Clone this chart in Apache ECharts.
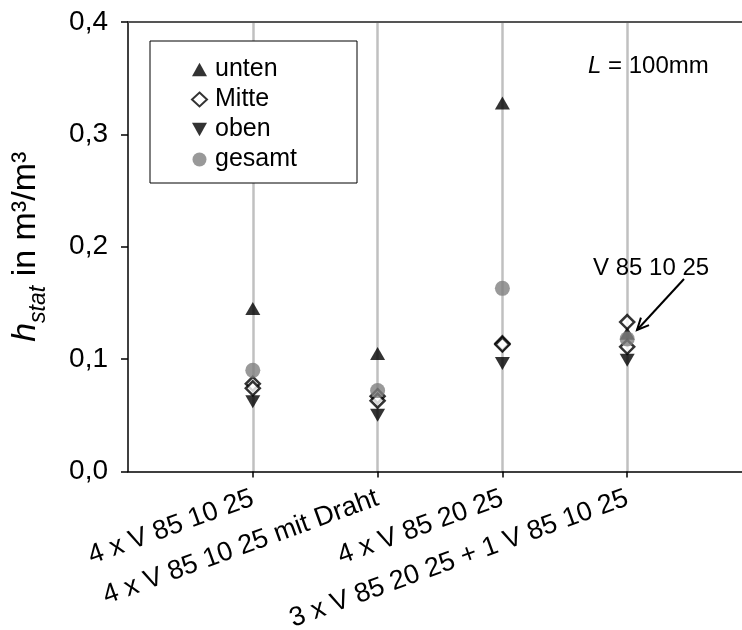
<!DOCTYPE html>
<html><head><meta charset="utf-8">
<script src="https://cdn.jsdelivr.net/npm/echarts@6/dist/echarts.min.js"></script>
<style>html,body{margin:0;padding:0;background:#fff}#c{width:742px;height:630px}</style>
</head><body><div id="c"></div>
<script>
const categories = ['4 x V 85 10 25', '4 x V 85 10 25 mit Draht', '4 x V 85 20 25', '3 x V 85 20 25 + 1 V 85 10 25'];
const unten  = [0.145, 0.105, 0.328, 0.123];
const mitteA = [0.078, 0.067, 0.114, 0.133];
const mitteB = [0.074, 0.063, 0.113, 0.111];
const oben   = [0.062, 0.050, 0.096, 0.099];
const gesamt = [0.090, 0.072, 0.163, 0.118];
const yMin = 0, yMax = 0.4, yStep = 0.1;

const FONT = "'Liberation Sans', Arial, sans-serif";
const axisCats = [''].concat(categories, ['']);
const pts = arr => arr.map((v, i) => [i + 1, v]);
const isCat = (idx, val) => val !== '';
const UP = 'path://M5,0 L10,9 L0,9 Z';
const DOWN = 'path://M0,0 L10,0 L5,9 Z';

const chart = echarts.init(document.getElementById('c'), null, {renderer: 'canvas'});

// arrow annotation geometry
const a0 = [684, 279], a1 = [637, 330];
const dx = a1[0] - a0[0], dy = a1[1] - a0[1], L = Math.hypot(dx, dy);
const ux = dx / L, uy = dy / L, hl = 13, ang = 25 * Math.PI / 180;
const rot = (x, y, t) => [x * Math.cos(t) - y * Math.sin(t), x * Math.sin(t) + y * Math.cos(t)];
const h1 = rot(-ux, -uy, ang), h2 = rot(-ux, -uy, -ang);

chart.setOption({
  animation: false,
  textStyle: {fontFamily: FONT},
  grid: {left: 128, right: -10, top: 22, bottom: 158.5, containLabel: false, outerBoundsMode: 'none'},
  xAxis: [{
    type: 'category',
    data: axisCats,
    boundaryGap: false,
    axisLine: {lineStyle: {color: '#000', width: 1.5}},
    axisTick: {show: true, length: 6, interval: isCat, lineStyle: {color: '#000', width: 1.5}},
    axisLabel: {interval: isCat, rotate: 20, fontSize: 27, color: '#000', margin: 26, fontFamily: FONT},
    splitLine: {show: true, interval: isCat, lineStyle: {color: '#c0c0c0', width: 2.5}}
  }, {
    type: 'category',
    data: axisCats,
    position: 'top',
    boundaryGap: false,
    axisLine: {lineStyle: {color: '#555', width: 2}},
    axisTick: {show: false}, axisLabel: {show: false}, splitLine: {show: false}
  }],
  yAxis: {
    type: 'value', min: yMin, max: yMax, interval: yStep,
    axisLine: {show: true, lineStyle: {color: '#000', width: 1.5}},
    axisTick: {show: true, length: 7, lineStyle: {color: '#000', width: 1.5}},
    axisLabel: {fontSize: 28, color: '#000', margin: 20, fontFamily: FONT,
      formatter: v => v.toFixed(1).replace('.', ',')},
    splitLine: {show: false},
    name: '{h|h}{s|stat}{t| in m³/m³}',
    nameLocation: 'middle', nameRotate: 90, nameGap: 78,
    nameTextStyle: {
      color: '#000', fontFamily: FONT,
      rich: {
        h: {fontSize: 34, fontStyle: 'italic', verticalAlign: 'bottom', padding: [0, 0, 7, 0], fontFamily: FONT, color: '#000'},
        s: {fontSize: 23, fontStyle: 'italic', verticalAlign: 'bottom', fontFamily: FONT, color: '#000'},
        t: {fontSize: 34, verticalAlign: 'bottom', padding: [0, 0, 7, 0], fontFamily: FONT, color: '#000'}
      }
    }
  },
  legend: {
    orient: 'vertical', left: 186, top: 52, z: 10,
    itemWidth: 15, itemHeight: 14, itemGap: 5,
    textStyle: {fontSize: 25, color: '#000', fontFamily: FONT, padding: [0, 0, 0, 3], lineHeight: 24},
    data: [{name: 'unten', icon: UP}, {name: 'Mitte'}, {name: 'oben', icon: DOWN}, {name: 'gesamt'}]
  },
  graphic: [
    {type: 'rect', z: 5, shape: {x: 150, y: 41, width: 207, height: 142},
      style: {fill: '#fff', stroke: '#000', lineWidth: 1}},
    {type: 'text', z: 5, x: 588, y: 66,
      style: {text: '{i|L} = 100mm', fontSize: 24, fill: '#000', fontFamily: FONT, verticalAlign: 'middle',
        rich: {i: {fontStyle: 'italic', fontSize: 24, fontFamily: FONT}}}},
    {type: 'text', z: 5, x: 593, y: 268,
      style: {text: 'V 85 10 25', fontSize: 24, fill: '#000', fontFamily: FONT, verticalAlign: 'middle'}},
    {type: 'line', z: 5, shape: {x1: a0[0], y1: a0[1], x2: a1[0], y2: a1[1]}, style: {stroke: '#000', lineWidth: 2}},
    {type: 'polyline', z: 5, shape: {points: [[a1[0] + h1[0] * hl, a1[1] + h1[1] * hl], a1, [a1[0] + h2[0] * hl, a1[1] + h2[1] * hl]]},
      style: {stroke: '#000', lineWidth: 2, fill: null}}
  ],
  series: [
    {name: 'unten', type: 'scatter', data: pts(unten), symbol: UP, symbolSize: [15, 13],
      itemStyle: {color: '#000'}},
    {name: 'Mitte', type: 'scatter', data: pts(mitteA).concat(pts(mitteB)), symbol: 'diamond', symbolSize: [14, 14],
      itemStyle: {color: '#fff', borderColor: '#000', borderWidth: 2.5}},
    {name: 'oben', type: 'scatter', data: pts(oben), symbol: DOWN, symbolSize: [15, 13],
      itemStyle: {color: '#000'}},
    {name: 'gesamt', type: 'scatter', data: pts(gesamt), symbol: 'circle', symbolSize: 15,
      itemStyle: {color: '#808080'}}
  ]
});
</script></body></html>
